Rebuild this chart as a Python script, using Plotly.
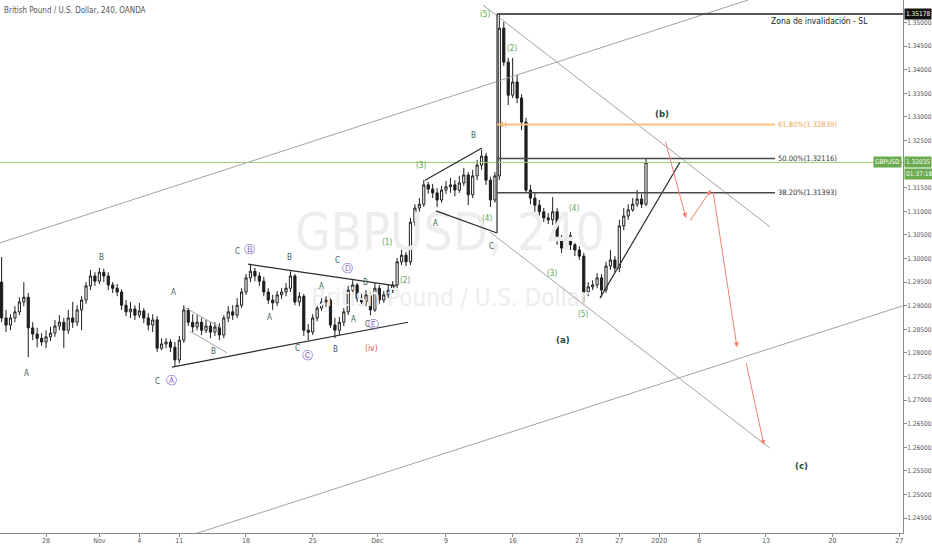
import plotly.graph_objects as go

FONT = "Liberation Sans Narrow, DejaVu Sans Condensed, Arial Narrow, sans-serif"

# ---------------- price data (8h bars) ----------------
first_bar_day = -3.33          # trading-day index of first bar (28 Oct = day 0)
bars_per_day = 3

opens = [1.2950,1.2874,1.2859,1.2874,1.2887,1.2908,1.2918,1.2853,1.2840,1.2831,
         1.2823,1.2834,1.2842,1.2857,1.2865,1.2848,1.2874,1.2865,1.2891,1.2912,
         1.2942,1.2963,1.2952,1.2971,1.2963,1.2944,1.2937,1.2929,1.2901,1.2887,
         1.2893,1.2880,1.2889,1.2874,1.2859,1.2870,1.2810,1.2819,1.2823,1.2812,
         1.2785,1.2827,1.2891,1.2865,1.2855,1.2865,1.2848,1.2857,1.2844,1.2855,
         1.2838,1.2874,1.2887,1.2880,1.2901,1.2929,1.2959,1.2973,1.2963,1.2952,
         1.2929,1.2912,1.2906,1.2923,1.2929,1.2937,1.2963,1.2908,1.2920,1.2848,
         1.2844,1.2874,1.2895,1.2908,1.2912,1.2859,1.2848,1.2865,1.2887,1.2933,
         1.2944,1.2916,1.2908,1.2923,1.2891,1.2937,1.2912,1.2923,1.2933,1.2944,
         1.2993,1.3007,1.2993,1.3077,1.3107,1.3115,1.3156,1.3147,1.3139,1.3124,
         1.3145,1.3152,1.3156,1.3145,1.3160,1.3177,1.3135,1.3175,1.3198,1.3217,
         1.3166,1.3124,1.3175,1.3488,1.3416,1.3346,1.3374,1.3340,1.3289,1.3145,
         1.3128,1.3113,1.3099,1.3086,1.3082,1.3099,1.3039,1.3022,1.3048,1.3029,
         1.3018,1.3005,1.2929,1.2940,1.2944,1.2959,1.2933,1.2984,1.2997,1.2980,
         1.3069,1.3090,1.3103,1.3115,1.3126,1.3115]

highs = [1.3003,1.2891,1.2882,1.2899,1.2918,1.2950,1.2927,1.2865,1.2853,1.2842,
         1.2848,1.2855,1.2870,1.2880,1.2874,1.2891,1.2908,1.2901,1.2920,1.2950,
         1.2976,1.2971,1.2980,1.2978,1.2971,1.2950,1.2946,1.2935,1.2912,1.2908,
         1.2901,1.2906,1.2895,1.2884,1.2882,1.2878,1.2831,1.2831,1.2829,1.2823,
         1.2836,1.2901,1.2895,1.2882,1.2880,1.2874,1.2870,1.2865,1.2865,1.2863,
         1.2880,1.2899,1.2901,1.2916,1.2937,1.2967,1.2988,1.2980,1.2971,1.2961,
         1.2937,1.2923,1.2931,1.2937,1.2948,1.2973,1.2967,1.2929,1.2925,1.2861,
         1.2882,1.2904,1.2916,1.2920,1.2916,1.2874,1.2876,1.2895,1.2942,1.2954,
         1.2948,1.2927,1.2933,1.2929,1.2948,1.2944,1.2931,1.2944,1.2952,1.3001,
         1.3018,1.3014,1.3086,1.3115,1.3128,1.3166,1.3162,1.3158,1.3149,1.3154,
         1.3164,1.3171,1.3166,1.3175,1.3192,1.3183,1.3188,1.3209,1.3230,1.3224,
         1.3173,1.3183,1.35178,1.3501,1.3425,1.3425,1.3389,1.3348,1.3298,1.3156,
         1.3139,1.3124,1.3107,1.3096,1.3130,1.3107,1.3050,1.3077,1.3056,1.3033,
         1.3026,1.3012,1.2950,1.2954,1.2969,1.2967,1.2993,1.3018,1.3005,1.3082,
         1.3107,1.3115,1.3128,1.3145,1.3137,1.3213]

lows = [1.2865,1.2844,1.2848,1.2865,1.2880,1.2899,1.2791,1.2827,1.2812,1.2815,
        1.2810,1.2825,1.2834,1.2848,1.2810,1.2840,1.2853,1.2857,1.2848,1.2904,
        1.2933,1.2942,1.2946,1.2950,1.2933,1.2927,1.2920,1.2891,1.2878,1.2874,
        1.2870,1.2874,1.2863,1.2848,1.2844,1.2802,1.2806,1.2810,1.2802,1.2770,
        1.2778,1.2821,1.2857,1.2844,1.2848,1.2838,1.2842,1.2831,1.2836,1.2827,
        1.2831,1.2865,1.2870,1.2874,1.2895,1.2923,1.2950,1.2952,1.2942,1.2920,
        1.2904,1.2891,1.2899,1.2914,1.2920,1.2929,1.2901,1.2899,1.2836,1.2827,
        1.2838,1.2867,1.2889,1.2897,1.2853,1.2831,1.2838,1.2857,1.2880,1.2923,
        1.2908,1.2899,1.2899,1.2880,1.2887,1.2904,1.2906,1.2916,1.2927,1.2937,
        1.2986,1.2984,1.2986,1.3069,1.3099,1.3109,1.3137,1.3128,1.3109,1.3118,
        1.3137,1.3139,1.3132,1.3139,1.3154,1.3113,1.3128,1.3166,1.3188,1.3156,
        1.3109,1.3118,1.3166,1.3408,1.3325,1.3340,1.3329,1.3272,1.3139,1.3115,
        1.3099,1.3086,1.3077,1.3073,1.3071,1.3029,1.3012,1.3018,1.3018,1.3005,
        1.2997,1.2906,1.2920,1.2933,1.2937,1.2918,1.2927,1.2976,1.2971,1.2971,
        1.3060,1.3082,1.3099,1.3109,1.3107,1.3111]

closes = [1.2874,1.2859,1.2874,1.2887,1.2908,1.2918,1.2853,1.2840,1.2831,1.2823,
          1.2834,1.2842,1.2857,1.2865,1.2848,1.2874,1.2865,1.2891,1.2912,1.2942,
          1.2963,1.2952,1.2971,1.2963,1.2944,1.2937,1.2929,1.2901,1.2887,1.2893,
          1.2880,1.2889,1.2874,1.2859,1.2870,1.2810,1.2819,1.2823,1.2812,1.2785,
          1.2827,1.2891,1.2865,1.2855,1.2865,1.2848,1.2857,1.2844,1.2855,1.2838,
          1.2874,1.2887,1.2880,1.2901,1.2929,1.2959,1.2973,1.2963,1.2952,1.2929,
          1.2912,1.2906,1.2923,1.2929,1.2937,1.2963,1.2908,1.2920,1.2848,1.2844,
          1.2874,1.2895,1.2908,1.2912,1.2859,1.2848,1.2865,1.2887,1.2933,1.2944,
          1.2916,1.2908,1.2923,1.2891,1.2937,1.2912,1.2923,1.2933,1.2944,1.2993,
          1.3007,1.2993,1.3077,1.3107,1.3115,1.3156,1.3147,1.3139,1.3124,1.3145,
          1.3152,1.3156,1.3145,1.3160,1.3177,1.3135,1.3175,1.3198,1.3217,1.3166,
          1.3124,1.3175,1.3488,1.3416,1.3346,1.3374,1.3340,1.3289,1.3145,1.3128,
          1.3113,1.3099,1.3086,1.3082,1.3099,1.3039,1.3022,1.3048,1.3029,1.3018,
          1.3005,1.2929,1.2940,1.2944,1.2959,1.2933,1.2984,1.2997,1.2980,1.3069,
          1.3090,1.3103,1.3115,1.3126,1.3115,1.32035]

# ---------------- axes ----------------
tick_labels = ["28", "Nov", "4", "11", "18", "25", "Dec", "9", "16", "23", "27",
               "2020", "6", "13", "20", "27"]
tick_days = [0, 4, 7, 10, 15, 20, 24.85, 30, 35, 40, 43, 46, 49, 54, 59, 64]
x_range = [-3.45, 64.28]
price_ticks = [1.245, 1.250, 1.255, 1.260, 1.265, 1.270, 1.275, 1.280, 1.285,
               1.290, 1.295, 1.300, 1.305, 1.310, 1.315, 1.320, 1.325, 1.330,
               1.335, 1.340, 1.345, 1.350]
y_range = [1.241843, 1.354767]

last_price = 1.32035
sl_price = 1.35178
fib_levels = [1.32839, 1.32116, 1.31393]
fib_texts = ["61.80%(1.32839)", "50.00%(1.32116)", "38.20%(1.31393)"]
fib_line_colors = ["#f9c27c", "#4a4a4a", "#4a4a4a"]
fib_text_colors = ["#eba650", "#333333", "#333333"]
fib_start_day = 33.83
fib_end_day = 54.68

# ---------------- drawings (day, price) ----------------
gray_lines = [  # channels and fan lines
    ([-5.0, 60.0], [1.3019, 1.3615]),
    ([11.0, 70.0], [1.2415, 1.2952]),
    ([32.78, 54.3], [1.3537, 1.3067]),
    ([33.3, 54.3], [1.3056, 1.2598]),
    ([10.35, 13.13], [1.2897, 1.2853]),
    ([10.8, 13.58], [1.2846, 1.2800]),
]
black_lines = [
    ([28.43, 32.7], [1.3166, 1.3234]),
    ([29.25, 33.83], [1.3101, 1.3054]),
    ([15.15, 26.25], [1.2988, 1.2942]),
    ([9.45, 27.15], [1.2770, 1.2865]),
    ([41.55, 47.55], [1.2916, 1.3204]),
]
vertical_line = ([33.83, 33.83], [1.35178, 1.3054])
sl_line = ([33.83, 70.0], [1.35178, 1.35178])

arrow_tail_day = [46.43, 48.23, 50.03, 52.5]
arrow_tail_price = [1.3251, 1.3077, 1.3143, 1.2781]
arrow_head_day = [48.0, 49.88, 51.83, 53.85]
arrow_head_price = [1.3086, 1.3145, 1.2812, 1.2605]

# wave labels
abc_text = ["A", "B", "C", "A", "B", "C", "B", "A", "C", "A", "B", "C", "B", "A", "C", "A", "B", "C"]
abc_day = [-1.50, 4.13, 8.33, 9.60, 12.60, 14.33, 18.30, 16.80, 18.90, 20.63, 21.75, 21.90, 23.93, 23.10, 24.08, 29.25, 32.03, 33.45]
abc_price = [1.2757, 1.3003, 1.2740, 1.2927, 1.2804, 1.3014, 1.3003, 1.2876, 1.2810, 1.2940, 1.2808, 1.2995, 1.2950, 1.2870, 1.2861, 1.3075, 1.3260, 1.3026]

circ_text = ["\u24b6", "\u24b7", "\u24b8", "\u24b9", "\u24ba"]
circ_day = [9.38, 15.30, 19.58, 22.58, 24.53]
circ_price = [1.2742, 1.3020, 1.2795, 1.2978, 1.2861]

green_text = ["(1)", "(2)", "(3)", "(4)", "(5)", "(2)", "(4)", "(3)", "(5)"]
green_day = [25.58, 26.93, 28.13, 33.08, 32.93, 34.95, 39.60, 37.95, 40.28]
green_price = [1.3033, 1.2954, 1.3198, 1.3084, 1.3518, 1.3444, 1.3105, 1.2969, 1.2882]

red_text = ["(iv)", "(v)"]
red_day = [24.45, 31.73]
red_price = [1.2810, 1.3548]

big_text = ["(a)", "(b)", "(c)"]
big_day = [38.78, 46.20, 56.70]
big_price = [1.2829, 1.3308, 1.2562]

wm_day = 30.3
wm_prices = [1.3045, 1.2912]
wm_texts = ["GBPUSD, 240", "British Pound / U.S. Dollar"]

# ---------------- figure ----------------
bar_x = [first_bar_day + i / bars_per_day for i in range(len(closes))]

fig = go.Figure()

fig.add_trace(go.Scatter(
    x=[wm_day, wm_day], y=wm_prices, mode="text", text=wm_texts,
    textfont=dict(size=[51, 24], color="#ededed", family=FONT),
    hoverinfo="skip"))

fig.add_trace(go.Scatter(x=x_range, y=[last_price, last_price], mode="lines",
                         line=dict(color="#9ccc7a", width=1), hoverinfo="skip"))

fig.add_trace(go.Candlestick(
    x=bar_x, open=opens, high=highs, low=lows, close=closes,
    increasing=dict(line=dict(color="#1e1e1e", width=1), fillcolor="#ffffff"),
    decreasing=dict(line=dict(color="#1e1e1e", width=1), fillcolor="#1e1e1e"),
    whiskerwidth=0, hoverinfo="skip"))

for xs, ys in gray_lines:
    fig.add_trace(go.Scatter(x=xs, y=ys, mode="lines",
                             line=dict(color="#a3a3a3", width=1), hoverinfo="skip"))
for xs, ys in black_lines:
    fig.add_trace(go.Scatter(x=xs, y=ys, mode="lines",
                             line=dict(color="#2a2a2a", width=1.2), hoverinfo="skip"))

fig.add_trace(go.Scatter(x=vertical_line[0], y=vertical_line[1], mode="lines",
                         line=dict(color="#555555", width=1.5), hoverinfo="skip"))
fig.add_trace(go.Scatter(x=sl_line[0], y=sl_line[1], mode="lines",
                         line=dict(color="#555555", width=2), hoverinfo="skip"))
for lvl, col, w in zip(fib_levels, fib_line_colors, [2, 1.5, 1.5]):
    fig.add_trace(go.Scatter(x=[fib_start_day, fib_end_day], y=[lvl, lvl], mode="lines",
                             line=dict(color=col, width=w), hoverinfo="skip"))

ann = []
for t, lvl, col in zip(fib_texts, fib_levels, fib_text_colors):
    ann.append(dict(x=fib_end_day, y=lvl, text=t, showarrow=False, xanchor="left",
                    xshift=1, font=dict(size=7.5, color=col, family=FONT)))
ann.append(dict(x=fib_start_day, y=fib_levels[0], text="1)", showarrow=False, xanchor="left",
                xshift=1, font=dict(size=7.5, color="#e0a050", family=FONT)))

ann.append(dict(x=58.05, y=sl_price, text="Zona de invalidación - SL", showarrow=False,
                yanchor="top", yshift=0, font=dict(size=8.5, color="#222222", family=FONT)))

for t, d, p in zip(abc_text, abc_day, abc_price):
    ann.append(dict(x=d, y=p, text=t, showarrow=False,
                    font=dict(size=8, color="#3c6155", family=FONT)))
for t, d, p in zip(circ_text, circ_day, circ_price):
    ann.append(dict(x=d, y=p, text=t, showarrow=False,
                    font=dict(size=11, color="#7b5fc4", family="DejaVu Sans")))
for t, d, p in zip(green_text, green_day, green_price):
    ann.append(dict(x=d, y=p, text=t, showarrow=False,
                    font=dict(size=8, color="#5ea552", family=FONT)))
for t, d, p in zip(red_text, red_day, red_price):
    ann.append(dict(x=d, y=p, text=t, showarrow=False,
                    font=dict(size=8.5, color="#e8584a", family=FONT)))
for t, d, p in zip(big_text, big_day, big_price):
    ann.append(dict(x=d, y=p, text="<b>" + t + "</b>", showarrow=False,
                    font=dict(size=9.5, color="#1e4a3e", family=FONT)))

for tx, ty, hx, hy in zip(arrow_tail_day, arrow_tail_price, arrow_head_day, arrow_head_price):
    ann.append(dict(x=hx, y=hy, ax=tx, ay=ty, xref="x", yref="y", axref="x", ayref="y",
                    text="", showarrow=True, arrowhead=2, arrowsize=1, arrowwidth=1,
                    arrowcolor="#f4806e"))

ann.append(dict(xref="paper", yref="paper", x=0, y=1, xanchor="left", yanchor="top",
                xshift=2, yshift=-4, showarrow=False,
                text="British Pound / U.S. Dollar, 240, OANDA",
                font=dict(size=8, color="#555555", family=FONT)))

# right-hand price tags
ann.append(dict(xref="paper", yref="y", x=1, y=sl_price, xanchor="left", xshift=1,
                showarrow=False, text="1.35178", bgcolor="#131313",
                font=dict(size=6.5, color="#ffffff", family=FONT), borderpad=1))
ann.append(dict(xref="paper", yref="y", x=1, y=last_price, xanchor="left", xshift=1,
                showarrow=False, text="1.32035", bgcolor="#6aab4f",
                font=dict(size=6.5, color="#ffffff", family=FONT), borderpad=1))
ann.append(dict(xref="paper", yref="y", x=1, y=last_price, xanchor="left", xshift=1,
                yshift=-12, showarrow=False, text="01:37:18", bgcolor="#6aab4f",
                font=dict(size=6.5, color="#ffffff", family=FONT), borderpad=1))
ann.append(dict(xref="paper", yref="y", x=1, y=last_price, xanchor="right", xshift=-1,
                showarrow=False, text="GBPUSD", bgcolor="#6aab4f",
                font=dict(size=6.5, color="#ffffff", family=FONT), borderpad=1))

fig.update_layout(
    width=932, height=550,
    margin=dict(l=0, r=29, t=0, b=17),
    paper_bgcolor="white", plot_bgcolor="white",
    showlegend=False,
    hovermode=False,
    annotations=ann,
    xaxis=dict(range=x_range, tickvals=tick_days, ticktext=tick_labels,
               showgrid=False, zeroline=False, showline=True, linecolor="#8a8a8a",
               ticks="outside", ticklen=3, tickcolor="#8a8a8a", ticklabelstandoff=-2,
               tickfont=dict(size=7, color="#555555", family=FONT),
               rangeslider=dict(visible=False)),
    yaxis=dict(range=y_range, side="right", tickvals=price_ticks, tickformat=".5f",
               showgrid=False, zeroline=False, showline=True, linecolor="#8a8a8a",
               ticks="outside", ticklen=3, tickcolor="#8a8a8a", ticklabelstandoff=-1,
               tickfont=dict(size=6.5, color="#555555", family=FONT)),
)

fig.write_html("out.html",
               config={"displayModeBar": False, "staticPlot": True},
               post_script="document.body.style.margin='0';document.body.style.overflow='hidden';")
